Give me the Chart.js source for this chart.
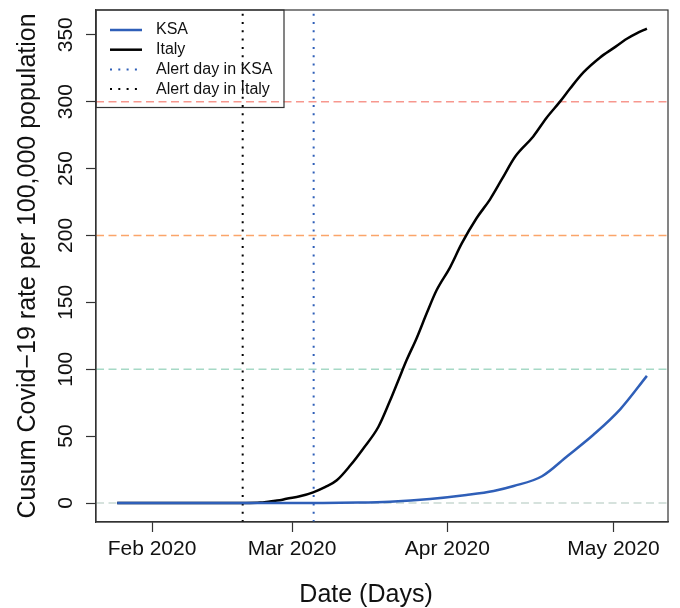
<!DOCTYPE html>
<html>
<head>
<meta charset="utf-8">
<script src="https://cdn.jsdelivr.net/npm/chart.js@4.4.0/dist/chart.umd.min.js"></script>
<style>
  html, body { margin: 0; padding: 0; background: #fff; }
  #wrap { width: 680px; height: 608px; position: relative; }
</style>
</head>
<body>
<div id="wrap"><canvas id="c"></canvas></div>
<script>
// ---- data (day index from first observation) ----
const ksaDays    = [0, 40, 47, 53, 60.8, 67.9, 73.2, 77.1, 82.6, 87.5, 92.6, 97.8, 103];
const ksaValues  = [0, 0, 0.3, 1, 3, 6, 9, 12.7, 20, 35, 51, 70, 95];
const italyDays   = [0, 20, 25, 27.8, 29.7, 31.6, 32.9, 35.5, 38.1, 40.5, 42.7, 45.3, 47.9, 50.8, 53.0, 54.7, 56.3, 58.2, 60.2, 62.1, 64.7, 67.0, 69.9, 72.5, 74.8, 77.4, 80.9, 83.5, 86.1, 88.1, 90.7, 93.9, 96.5, 99.1, 101, 103.0];
const italyValues = [0, 0, 0, 0.3, 1.2, 2, 3.2, 5, 8, 12, 17, 28, 41, 57, 76, 92, 107, 123, 142, 159, 176, 194, 213, 227, 242, 259, 274, 288, 300, 310, 322, 333, 340, 347, 351, 354.6];
const alertDayKSA = 38.2;
const alertDayItaly = 24.4;
const refLevels = [0, 100, 200, 300];
const refColors = ['#c9d9d2', '#a6d9c6', '#fba56a', '#f7978e'];
const xTickValues = [6.77, 34.0, 64.2, 96.5];
const xTickLabels = ['Feb 2020', 'Mar 2020', 'Apr 2020', 'May 2020'];
const yTickValues = [0, 50, 100, 150, 200, 250, 300, 350];
const legendLabels = ['KSA', 'Italy', 'Alert day in KSA', 'Alert day in Italy'];
const xTitle = 'Date (Days)';
const yTitle = 'Cusum Covid\u221219 rate per 100,000 population';

const xMin = -4.12, xMax = 107.1;
const yMin = -14.2, yMax = 368.5;

const FONT = '"Liberation Sans", Arial, Helvetica, sans-serif';
const BLUE = '#2f5fb8';
const AXIS = '#333333';

const toXY = (xs, ys) => xs.map((x, i) => ({x: x, y: ys[i]}));

const datasets = [
  { label: legendLabels[0], data: toXY(ksaDays, ksaValues), borderColor: BLUE, borderWidth: 2.5, pointRadius: 0, cubicInterpolationMode: 'monotone', fill: false },
  { label: legendLabels[1], data: toXY(italyDays, italyValues), borderColor: '#000', borderWidth: 2.5, pointRadius: 0, cubicInterpolationMode: 'monotone', fill: false },
  { label: legendLabels[2], data: [{x: alertDayKSA, y: yMin}, {x: alertDayKSA, y: yMax}], borderColor: BLUE, borderWidth: 2, borderDash: [2, 6.3], pointRadius: 0, fill: false },
  { label: legendLabels[3], data: [{x: alertDayItaly, y: yMin}, {x: alertDayItaly, y: yMax}], borderColor: '#000', borderWidth: 2, borderDash: [2, 6.3], pointRadius: 0, fill: false },
];
refLevels.forEach((v, i) => {
  datasets.push({ label: 'ref' + v, data: [{x: xMin, y: v}, {x: xMax, y: v}], borderColor: refColors[i], borderWidth: 1.5, borderDash: [8, 4.5], pointRadius: 0, fill: false });
});

const boxPlugin = {
  id: 'rbox',
  afterDraw(chart) {
    const {ctx, chartArea: a} = chart;
    ctx.save();
    ctx.strokeStyle = AXIS;
    ctx.lineWidth = 1.2;
    ctx.strokeRect(a.left, a.top, a.right - a.left, a.bottom - a.top);
    // x title
    const xs = chart.scales.x;
    ctx.fillStyle = '#111';
    ctx.font = '25px ' + FONT;
    ctx.textAlign = 'center';
    ctx.textBaseline = 'alphabetic';
    ctx.fillText(xTitle, xs.getPixelForValue(xTickValues[1]) + 74, 602);
    ctx.restore();
  }
};

const legendPlugin = {
  id: 'rlegend',
  afterDatasetsDraw(chart) {
    const {ctx, chartArea: a} = chart;
    const bx = a.left, by = a.top, bw = 188, bh = 97.5;
    ctx.save();
    ctx.strokeStyle = AXIS;
    ctx.lineWidth = 1.2;
    ctx.strokeRect(bx, by, bw, bh);
    ctx.font = '16px ' + FONT;
    ctx.textBaseline = 'middle';
    ctx.textAlign = 'left';
    for (let i = 0; i < 4; i++) {
      const ds = chart.data.datasets[i];
      const yy = by + 20 + i * 19.7;
      ctx.strokeStyle = ds.borderColor;
      ctx.lineWidth = i < 2 ? 2.5 : 2;
      ctx.setLineDash(i < 2 ? [] : [2, 6.3]);
      ctx.beginPath();
      ctx.moveTo(bx + 14, yy);
      ctx.lineTo(bx + 46, yy);
      ctx.stroke();
      ctx.setLineDash([]);
      ctx.fillStyle = '#111';
      ctx.fillText(ds.label, bx + 60, yy);
    }
    ctx.restore();
  }
};

new Chart(document.getElementById('c'), {
  type: 'line',
  data: { datasets },
  options: {
    responsive: true,
    maintainAspectRatio: false,
    animation: false,
    layout: { padding: { top: 10, right: 12, left: 0, bottom: 0 } },
    plugins: { legend: { display: false }, tooltip: { enabled: false } },
    scales: {
      x: {
        type: 'linear', min: xMin, max: xMax,
        afterFit: s => { s.height = 86; s.paddingLeft = 0; s.paddingRight = 0; },
        afterBuildTicks: s => { s.ticks = xTickValues.map(v => ({value: v})); },
        grid: { drawOnChartArea: false, drawTicks: true, tickLength: 10, tickColor: AXIS, tickWidth: 1.2 },
        border: { display: true, color: AXIS, width: 1.2 },
        ticks: {
          autoSkip: false, maxRotation: 0, minRotation: 0, padding: 5,
          color: '#111', font: { family: FONT, size: 21 },
          callback: (v, i) => xTickLabels[i]
        }
      },
      y: {
        type: 'linear', min: yMin, max: yMax,
        afterFit: s => { s.width = 96; s.paddingTop = 0; s.paddingBottom = 0; },
        afterBuildTicks: s => { s.ticks = yTickValues.map(v => ({value: v})); },
        grid: { drawOnChartArea: false, drawTicks: true, tickLength: 10, tickColor: AXIS, tickWidth: 1.2 },
        border: { display: true, color: AXIS, width: 1.2 },
        ticks: {
          autoSkip: false, minRotation: 90, maxRotation: 90, crossAlign: 'center', padding: 2.5,
          color: '#111', font: { family: FONT, size: 21 }
        },
        title: {
          display: true, text: yTitle, color: '#111',
          font: { family: FONT, size: 25 },
          padding: { top: 13, bottom: 0 }
        }
      }
    }
  },
  plugins: [boxPlugin, legendPlugin]
});
</script>
</body>
</html>
